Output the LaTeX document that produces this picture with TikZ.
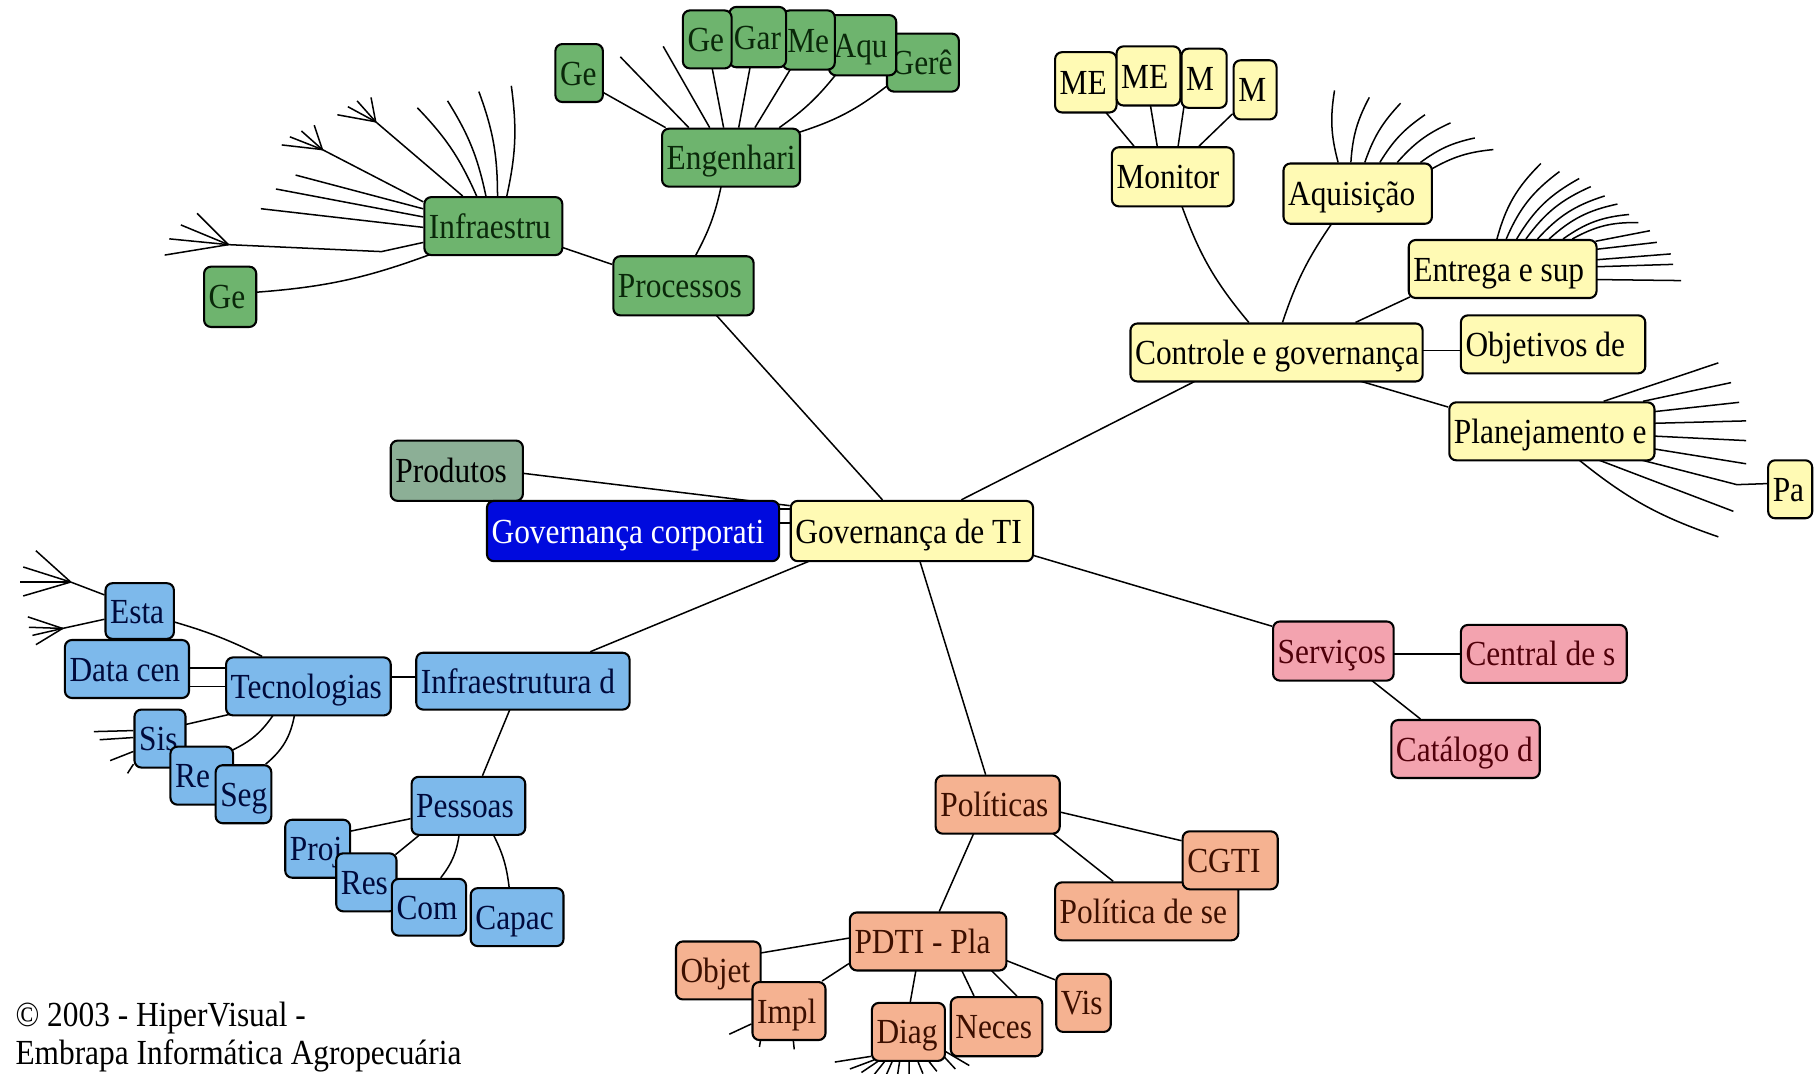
\documentclass[tikz,border=0pt]{standalone}
\usepackage{fontspec}
\setmainfont{Liberation Serif}[FakeStretch=0.89]
\usetikzlibrary{calc}
\pgfdeclarelayer{bg}
\pgfsetlayers{bg,main}
\definecolor{gfill}{RGB}{110,180,110}
\definecolor{gtext}{RGB}{10,40,10}
\definecolor{yfill}{RGB}{255,250,180}
\definecolor{bfill}{RGB}{125,185,235}
\definecolor{btext}{RGB}{0,10,60}
\definecolor{dfill}{RGB}{0,10,222}
\definecolor{pfill}{RGB}{140,175,150}
\definecolor{rfill}{RGB}{243,163,175}
\definecolor{rtext}{RGB}{80,0,10}
\definecolor{ofill}{RGB}{245,178,145}
\definecolor{otext}{RGB}{60,15,0}
\newcommand\mybox[7]{%
  \pgfmathsetmacro\mybw{(#5-#3)*0.5}%
  \pgfmathsetmacro\mybh{(#6-#4)*0.5}%
  \pgfmathsetmacro\mytw{\mybw-4}%
  \node[#2, minimum width=\mybw pt, minimum height=\mybh pt] (#1) at ({(#3+#5)/2},{(#4+#6)/2}) {\makebox[\mytw pt][l]{#7}};}
% node-to-node connector: [to options] {from}{dx}{dy}{to}{dx}{dy}
\newcommand\lnk[7][]{\draw[ln] ($(#2.north west)+(#3,#4)$) to[#1] ($(#5.north west)+(#6,#7)$);}
% connector with a free end: [to options] {from}{dx}{dy}{x}{y}
\newcommand\lfr[6][]{\draw[ln] ($(#2.north west)+(#3,#4)$) to[#1] (#5,#6);}
\tikzset{
  box/.style={draw=black, line width=0.9pt, rounded corners=3pt, inner xsep=2pt, inner ysep=0pt,
    text height=11pt, text depth=0.6pt, font=\fontsize{15.2pt}{18pt}\selectfont},
  gbox/.style={box, fill=gfill, text=gtext},
  ybox/.style={box, fill=yfill, text=black},
  bbox/.style={box, fill=bfill, text=btext},
  dbox/.style={box, fill=dfill, text=white},
  pbox/.style={box, fill=pfill, text=black},
  rbox/.style={box, fill=rfill, text=rtext},
  obox/.style={box, fill=ofill, text=otext},
  ln/.style={line width=0.65pt, draw=black},
  foot/.style={anchor=base west, inner sep=0pt, font=\fontsize{15.2pt}{18pt}\selectfont},
}
\begin{document}
\begin{tikzpicture}[x=0.5pt,y=-0.5pt]
\useasboundingbox (0,0) rectangle (1568,926);
\begin{pgfonlayer}{bg}
\fill[white] (0,0) rectangle (1568,926);
\end{pgfonlayer}
% ---------- green
\mybox{geA}{gbox}{479}{38}{520}{88}{Ge}
\mybox{gere}{gbox}{765}{29}{827}{79}{Gerê}
\mybox{aqu}{gbox}{715}{13}{773}{65}{Aqu}
\mybox{me}{gbox}{675}{9}{720}{60}{Me}
\mybox{gar}{gbox}{629}{6}{678}{58}{Gar}
\mybox{geB}{gbox}{589}{9}{631}{59}{Ge}
\mybox{engA}{gbox}{571}{111}{690}{161}{Engenhari}
\mybox{infA}{gbox}{366}{170}{485}{220}{Infraestru}
\mybox{proc}{gbox}{529}{221}{650}{272}{Processos}
\mybox{geC}{gbox}{176}{230}{221}{282}{Ge}
% ---------- yellow
\mybox{me1}{ybox}{910}{45}{963}{97}{ME}
\mybox{me2}{ybox}{963}{40}{1018}{91}{ME}
\mybox{m1}{ybox}{1019}{42}{1058}{93}{M}
\mybox{m2}{ybox}{1064}{52}{1101}{103}{M}
\mybox{mon}{ybox}{959}{127}{1064}{178}{Monitor}
\mybox{aquis}{ybox}{1107}{141}{1235}{193}{Aquisição}
\mybox{entr}{ybox}{1215}{207}{1377}{257}{Entrega e sup}
\mybox{ctrl}{ybox}{975}{279}{1227}{329}{Controle e governança}
\mybox{obj}{ybox}{1260}{272}{1419}{322}{Objetivos de}
\mybox{plan}{ybox}{1250}{347}{1427}{397}{Planejamento e}
\mybox{pa}{ybox}{1525}{397}{1563}{447}{Pa}
\mybox{gti}{ybox}{682}{432}{891}{484}{Governança de TI}
% ---------- centre left
\mybox{prod}{pbox}{337}{380}{451}{432}{Produtos}
\mybox{gcorp}{dbox}{420}{432}{672}{484}{Governança corporati}
% ---------- blue
\mybox{esta}{bbox}{91}{503}{150}{551}{Esta}
\mybox{datac}{bbox}{56}{552}{163}{602}{Data cen}
\mybox{tec}{bbox}{195}{567}{337}{617}{Tecnologias}
\mybox{infd}{bbox}{359}{563}{543}{612}{Infraestrutura d}
\mybox{sis}{bbox}{116}{612}{160}{662}{Sis}
\mybox{re}{bbox}{147}{644}{201}{694}{Re}
\mybox{seg}{bbox}{186}{660}{234}{710}{Seg}
\mybox{pess}{bbox}{355}{670}{453}{720}{Pessoas}
\mybox{proj}{bbox}{246}{707}{302}{757}{Proj}
\mybox{res}{bbox}{290}{736}{342}{786}{Res}
\mybox{com}{bbox}{338}{758}{402}{807}{Com}
\mybox{capac}{bbox}{406}{766}{486}{816}{Capac}
% ---------- pink
\mybox{serv}{rbox}{1098}{536}{1202}{587}{Serviços}
\mybox{central}{rbox}{1260}{539}{1403}{589}{Central de s}
\mybox{catal}{rbox}{1200}{621}{1328}{671}{Catálogo d}
% ---------- orange
\mybox{pol}{obox}{807}{669}{914}{719}{Políticas}
\mybox{polse}{obox}{910}{761}{1068}{811}{Política de se}
\mybox{cgti}{obox}{1020}{717}{1102}{767}{CGTI}
\mybox{pdti}{obox}{733}{787}{868}{837}{PDTI - Pla}
\mybox{objet}{obox}{583}{812}{656}{862}{Objet}
\mybox{impl}{obox}{649}{847}{712}{897}{Impl}
\mybox{diag}{obox}{752}{865}{815}{915}{Diag}
\mybox{neces}{obox}{820}{860}{899}{911}{Neces}
\mybox{vis}{obox}{911}{840}{958}{890}{Vis}
% ---------- footer
\node[foot] (foot1) at (13,885) {© 2003 - HiperVisual -};
\node[foot] (foot2) at (13,918) {Embrapa Informática Agropecuária};

\begin{pgfonlayer}{bg}
% green
\lnk{engA}{4}{0}{geA}{41}{42}
\lfr{engA}{24}{0}{535}{49}
\lfr{engA}{42}{0}{572}{40}
\lnk{engA}{54}{0}{geB}{26}{50}
\lnk{engA}{67}{0}{gar}{19}{52}
\lnk{engA}{81}{0}{me}{8}{51}
\lnk[bend right=8]{engA}{102}{0}{aqu}{7}{52}
\lnk[bend right=10]{engA}{119}{4}{gere}{1}{46}
\lnk[bend left=8]{engA}{52}{50}{proc}{72}{0}
\lnk{infA}{119}{44}{proc}{0}{8}
\lnk{proc}{89}{51}{gti}{80}{0}
% Infraestru fan
\draw[ln] ($(infA.north west)+(34,0)$) -- (324,105) coordinate (f1);
\foreach \ex/\ey in {291/99,300/92,308/87,320/84} \draw[ln] (f1) -- (\ex,\ey);
\foreach \sx/\ex/\ey in {46/360/93, 54/386/87, 64/413/79, 72/441/74}
  {\lfr[bend right=10]{infA}{\sx}{0}{\ex}{\ey}}
\draw[ln] ($(infA.north west)+(0,5)$) -- (278,129) coordinate (f2);
\foreach \ex/\ey in {243/125,250/118,260/113,271/108} \draw[ln] (f2) -- (\ex,\ey);
\lfr{infA}{0}{11}{255}{151}
\lfr{infA}{0}{18}{238}{163}
\lfr{infA}{0}{27}{225}{180}
\draw[ln] ($(infA.north west)+(0,40)$) -- (329,217) -- (197,211) coordinate (f3);
\foreach \ex/\ey in {142/220,146/206,156/194,170/184} \draw[ln] (f3) -- (\ex,\ey);
\lnk[bend right=8]{geC}{45}{23}{infA}{7}{50}
% yellow
\lnk{me1}{44}{52}{mon}{20}{0}
\lnk{me2}{30}{51}{mon}{40}{0}
\lnk{m1}{3}{51}{mon}{58}{0}
\lnk{m2}{0}{47}{mon}{76}{0}
\lnk[bend right=10]{mon}{61}{51}{ctrl}{103}{0}
\lnk[bend right=8]{aquis}{43}{52}{ctrl}{132}{0}
\lnk{entr}{2}{50}{ctrl}{195}{0}
\lnk{ctrl}{252}{24}{obj}{0}{31}
\lnk{ctrl}{197}{50}{plan}{0}{5}
\lnk{ctrl}{58}{50}{gti}{148}{0}
\foreach \sx/\sy/\ex/\ey in {48/0/1151/78, 59/0/1181/84, 71/0/1208/89, 84/0/1229/99, 99/0/1251/106, 119/0/1272/119, 128/6/1288/129}
  {\lfr[bend left=12]{aquis}{\sx}{\sy}{\ex}{\ey}}
\foreach \sx/\ex/\ey in {77/1329/141, 85/1345/148, 94/1362/154, 102/1372/161, 112/1384/169, 122/1395/176, 134/1405/185, 142/1413/192}
  {\lfr[bend left=15]{entr}{\sx}{0}{\ex}{\ey}}
\foreach \sy/\ex/\ey in {2/1423/199, 9/1429/209, 18/1441/219, 24/1443/228, 35/1450/242}
  {\lfr{entr}{162}{\sy}{\ex}{\ey}}
\lfr{plan}{134}{0}{1482}{313}
\lfr{plan}{168}{0}{1493}{330}
\foreach \sy/\ex/\ey in {9/1500/347, 19/1506/363, 30/1506/380, 41/1506/400}
  {\lfr{plan}{177}{\sy}{\ex}{\ey}}
\draw[ln] ($(plan.north west)+(164,50)$) -- (1498,418) -- ($(pa.north west)+(0,21)$);
\lfr{plan}{128}{50}{1495}{441}
\lfr[bend right=10]{plan}{112}{50}{1482}{463}
% centre
\lnk{prod}{114}{29}{gti}{0}{5}
\lnk{gcorp}{252}{8}{gti}{0}{8}
\lnk{gcorp}{252}{20}{gti}{0}{20}
\lnk{gti}{19}{52}{infd}{151}{0}
\lnk{gti}{112}{52}{pol}{44}{0}
\lnk{gti}{207}{47}{serv}{0}{5}
% pink
\lnk{serv}{104}{29}{central}{0}{26}
\lnk{serv}{85}{51}{catal}{26}{0}
% blue
\lnk{tec}{142}{18}{infd}{0}{22}
\lnk{infd}{82}{49}{pess}{62}{0}
\lnk[bend left=5]{esta}{59}{34}{tec}{32}{0}
\lnk{datac}{107}{25}{tec}{0}{10}
\lnk{datac}{107}{41}{tec}{0}{26}
\lnk{tec}{4}{50}{sis}{44}{14}
\lnk[bend left=15]{tec}{42}{50}{re}{54}{4}
\lnk[bend left=20]{tec}{60}{50}{seg}{44}{0}
\draw[ln] ($(esta.north west)+(0,11)$) -- (61,502) coordinate (f4);
\foreach \ex/\ey in {31/475,20/489,17/502,20/514} \draw[ln] (f4) -- (\ex,\ey);
\draw[ln] ($(esta.north west)+(0,32)$) -- (54,542) coordinate (f5);
\foreach \ex/\ey in {24/532,25/541,28/548,31/556} \draw[ln] (f5) -- (\ex,\ey);
\foreach \sy/\ex/\ey in {19/81/631, 25/86/638, 37/95/656, 48/110/667}
  {\lfr{sis}{0}{\sy}{\ex}{\ey}}
\lnk{pess}{0}{37}{proj}{56}{11}
\lnk{pess}{9}{50}{res}{52}{2}
\lnk[bend left=15]{pess}{42}{50}{com}{43}{0}
\lnk[bend left=10]{pess}{71}{50}{capac}{34}{0}
% orange
\lnk{pol}{107}{32}{cgti}{0}{9}
\lnk{pol}{101}{50}{polse}{51}{0}
\lnk{pol}{34}{50}{pdti}{78}{0}
\lnk{pdti}{0}{23}{objet}{73}{11}
\lnk{pdti}{0}{45}{impl}{61}{0}
\lnk{pdti}{58}{50}{diag}{34}{0}
\lnk{pdti}{97}{50}{neces}{21}{0}
\lnk{pdti}{122}{50}{neces}{58}{0}
\lnk{pdti}{135}{42}{vis}{0}{6}
\lfr{impl}{0}{37}{629}{892}
\lfr{impl}{8}{50}{655}{903}
\lfr{impl}{36}{50}{685}{905}
\foreach \sx/\sy/\ex/\ey in {0/47/720/916, 3/50/733/922, 8/50/743/925, 13/50/753/928, 19/50/764/928, 25/50/774/928, 33/50/784/928, 40/50/796/926, 49/50/808/924, 61/45/824/922, 63/42/836/919}
  {\lfr{diag}{\sx}{\sy}{\ex}{\ey}}
\end{pgfonlayer}
\end{tikzpicture}
\end{document}
